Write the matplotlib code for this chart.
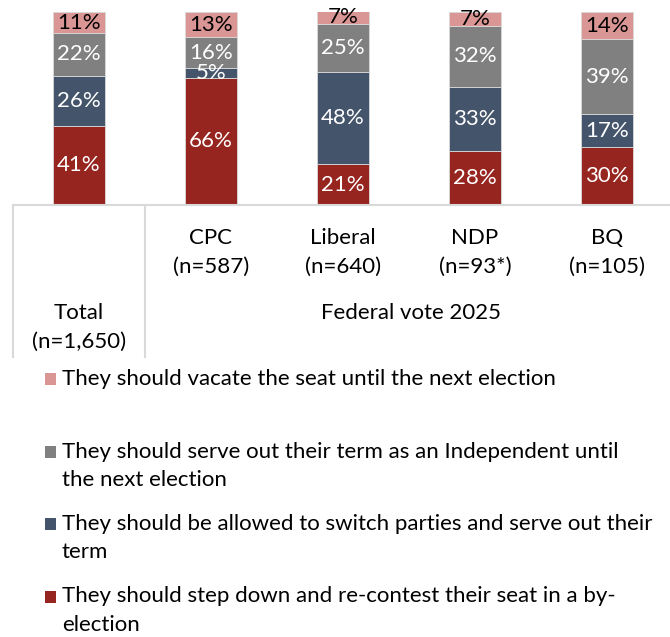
import matplotlib.pyplot as plt
from matplotlib.lines import Line2D
from matplotlib.patches import Rectangle
import numpy as np

plt.rcParams['font.family'] = ['Lato', 'DejaVu Sans']

groups = ['Total\n(n=1,650)', 'CPC\n(n=587)', 'Liberal\n(n=640)', 'NDP\n(n=93*)', 'BQ\n(n=105)']
step_down = [41, 66, 21, 28, 30]
switch = [26, 5, 48, 33, 17]
independent = [22, 16, 25, 32, 39]
vacate = [11, 13, 7, 7, 14]

series = [step_down, switch, independent, vacate]
colors = ['#962520', '#44546A', '#808080', '#DA9694']
label_colors = ['white', 'white', 'white', 'black']
legend_labels = [
    'They should vacate the seat until the next election',
    'They should serve out their term as an Independent until\nthe next election',
    'They should be allowed to switch parties and serve out their\nterm',
    'They should step down and re-contest their seat in a by-\nelection',
]
legend_colors = ['#DA9694', '#808080', '#44546A', '#962520']

W, H = 670, 637
FS = 16
LINE = 28.5
fig = plt.figure(figsize=(W / 100, H / 100), dpi=100)

def fx(px):
    return px / W

def fy(py):
    return 1 - py / H

def lines_at(xpx, ypx, txt, ha):
    # draw multi-line text, first line centred at ypx
    for k, line in enumerate(txt.split('\n')):
        fig.text(fx(xpx), fy(ypx + LINE * k), line, ha=ha, va='center', fontsize=FS)

# bar axes: x from 13 to 673 px, y from 205 (0%) to 12 (100%)
ax = fig.add_axes([fx(13), fy(205), fx(673) - fx(13), fy(12) - fy(205)])
x = np.arange(len(groups))
bottom = np.zeros(len(groups))
for vals, c, lc in zip(series, colors, label_colors):
    vals = np.array(vals, dtype=float)
    ax.bar(x, vals, 0.39, bottom=bottom, color=c, edgecolor='#D9D9D9', linewidth=0.6)
    for xi, b, v in zip(x, bottom, vals):
        ax.text(xi, b + v / 2, f'{int(v)}%', ha='center', va='center',
                color=lc, fontsize=FS)
    bottom += vals
ax.set_xlim(-0.5, 4.5)
ax.set_ylim(0, 100)
ax.axis('off')

# category table lines
grey = '#D9D9D9'
fig.add_artist(Line2D([fx(13), 1], [fy(205), fy(205)], color=grey, lw=1.5, transform=fig.transFigure))
for px in (13, 145):
    fig.add_artist(Line2D([fx(px), fx(px)], [fy(205), fy(357)], color=grey, lw=1.5, transform=fig.transFigure))

# category labels
for i, g in enumerate(groups):
    cxpx = ax.transData.transform((i, 0))[0]
    lines_at(cxpx, 313 if i == 0 else 238, g, 'center')
lines_at(411, 313, 'Federal vote 2025', 'center')

# legend
for i, (lab, c) in enumerate(zip(legend_labels, legend_colors)):
    ypx = 379 + 72.5 * i
    fig.add_artist(Rectangle((fx(45), fy(ypx + 6)), fx(11), fy(0) - fy(12),
                             facecolor=c, edgecolor='none', transform=fig.transFigure))
    lines_at(62, ypx, lab, 'left')

fig.savefig('out.png', dpi=100, facecolor='white')
